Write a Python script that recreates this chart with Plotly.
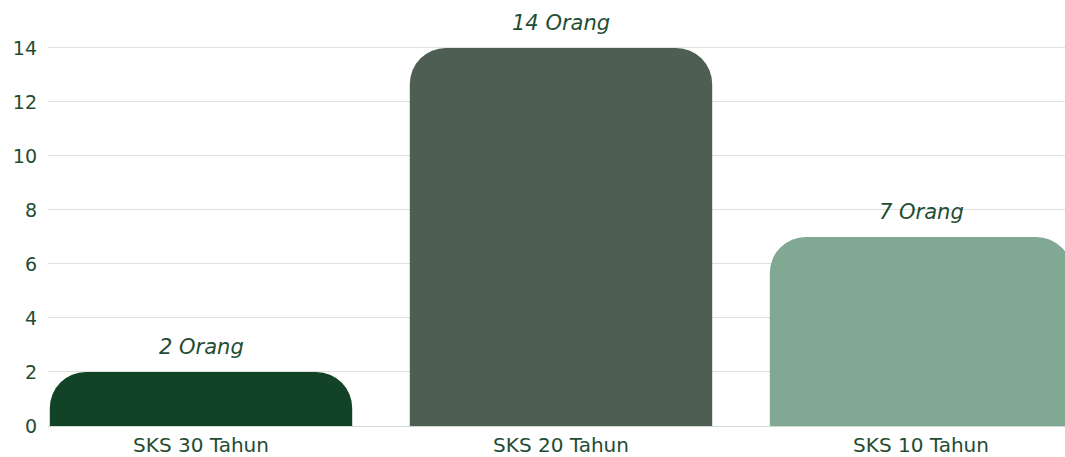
import plotly.graph_objects as go

categories = ["SKS 30 Tahun", "SKS 20 Tahun", "SKS 10 Tahun"]
values = [2, 14, 7]
labels = ["2 Orang", "14 Orang", "7 Orang"]
colors = ["#134327", "#4e5e53", "#80a892"]

text_color = "#1f4d33"
font_family = "'DejaVu Sans', sans-serif"

fig = go.Figure()
fig.add_trace(go.Bar(
    x=categories,
    y=values,
    marker=dict(color=colors, line=dict(width=0)),
    width=0.84,
    hoverinfo="skip",
))

for c, v, t in zip(categories, values, labels):
    fig.add_annotation(
        x=c, y=v, text=t, showarrow=False, yshift=25,
        font=dict(family=font_family, size=21, color=text_color, style="italic"),
    )

fig.update_layout(
    width=1065, height=457,
    margin=dict(l=48, r=0, t=12, b=27),
    paper_bgcolor="white",
    plot_bgcolor="white",
    barcornerradius=36,
    showlegend=False,
    font=dict(family=font_family, size=19, color=text_color),
    xaxis=dict(
        range=[-0.425, 2.4],
        showgrid=False,
        showline=True,
        linecolor="#cfd9d3",
        linewidth=1,
        ticks="",
        tickfont=dict(size=20, color=text_color),
        ticklabelstandoff=1,
        fixedrange=True,
    ),
    yaxis=dict(
        range=[0, 15.33],
        tickvals=[0, 2, 4, 6, 8, 10, 12, 14],
        showgrid=True,
        gridcolor="#dce2df",
        gridwidth=1,
        zeroline=False,
        showline=False,
        ticks="",
        tickfont=dict(size=19, color=text_color),
        ticklabelstandoff=10,
        fixedrange=True,
    ),
)

fig.write_html(
    "out.html",
    config={"displayModeBar": False, "staticPlot": True},
    post_script="document.body.style.margin='0';document.body.style.overflow='hidden';",
)
